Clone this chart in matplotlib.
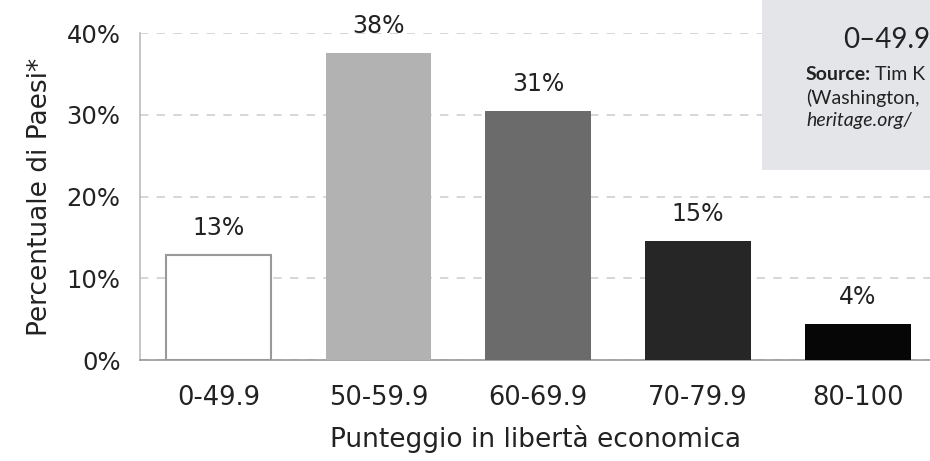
import matplotlib
matplotlib.use("Agg")
import matplotlib.pyplot as plt
from matplotlib.patches import Rectangle

categories = ["0-49.9", "50-59.9", "60-69.9", "70-79.9", "80-100"]
values = [12.9, 37.6, 30.5, 14.6, 4.4]
labels = ["13%", "38%", "31%", "15%", "4%"]
colors = ["#ffffff", "#b2b2b2", "#6b6b6b", "#262626", "#060606"]
yticks = [0, 10, 20, 30, 40]
ytick_labels = ["0%", "10%", "20%", "30%", "40%"]

plt.rcParams['font.family'] = ['DejaVu Sans']
txt = "#222222"

fig = plt.figure(figsize=(9.3, 4.61), dpi=100)
ax = fig.add_axes([140/930, 1 - 360/461, 1 - 140/930, (360 - 33)/461])

x = list(range(len(categories)))
ax.bar(x, values, width=0.66, color=colors, edgecolor=["#999999", "none", "none", "none", "none"],
       linewidth=1.5, zorder=3)
for xi, v, lab in zip(x, values, labels):
    ax.text(xi, v + 3.3, lab, ha="center", va="center", fontsize=17, color=txt)

ax.set_xlim(-0.49, 4.45)
ax.set_ylim(0, 40)
ax.set_yticks(yticks)
ax.set_yticklabels(ytick_labels, fontsize=17.5, color=txt)
ax.set_xticks(x)
ax.set_xticklabels(categories, fontsize=18.5, color=txt)
ax.tick_params(axis="y", length=0, pad=14)
ax.tick_params(axis="x", length=0, pad=18)
ax.yaxis.grid(True, linestyle=(0, (5, 5)), color="#d0d0d0", linewidth=1.2, zorder=0)
ax.set_axisbelow(True)
for s in ["top", "right"]:
    ax.spines[s].set_visible(False)
ax.spines["left"].set_color("#bbbbbb")
ax.spines["bottom"].set_color("#999999")
ax.spines["left"].set_linewidth(1.2)
ax.spines["bottom"].set_linewidth(1.2)

ax.set_ylabel("Percentuale di Paesi*", fontsize=19, color=txt, labelpad=10)
ax.set_xlabel("Punteggio in libertà economica", fontsize=19, color=txt, labelpad=10)

# partial info box at top right (cropped in the reference)
fig.patches.append(Rectangle((762/930, 1 - 170/461), 200/930, 200/461,
                             transform=fig.transFigure, facecolor="#e4e5e8",
                             edgecolor="none", zorder=5))
fig.text(843/930, 1 - 40/461, "0–49.9", fontsize=20, family="Lato", color=txt,
         va="center", ha="left", zorder=6)
fig.text(806/930, 1 - 75/461, "Source:", fontsize=14, family="Lato", fontweight="bold", color=txt,
         va="center", ha="left", zorder=6)
fig.text(875/930, 1 - 75/461, "Tim K", fontsize=14, family="Lato", color=txt,
         va="center", ha="left", zorder=6)
fig.text(806/930, 1 - 98/461, "(Washington,", fontsize=14, family="Lato", color=txt,
         va="center", ha="left", zorder=6)
fig.text(806/930, 1 - 120/461, "heritage.org/", fontsize=14, family="Lato", style="italic",
         color=txt, va="center", ha="left", zorder=6)

fig.savefig("out.png", dpi=100)
